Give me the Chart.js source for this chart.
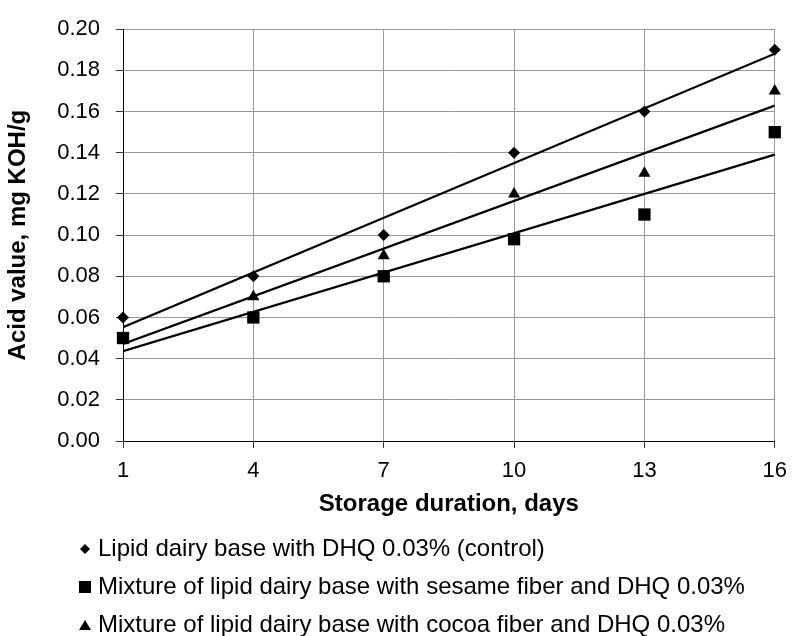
<!DOCTYPE html>
<html lang="en">
<head>
  <meta charset="UTF-8" />
  <title>Acid value during storage</title>
  <script src="https://cdn.jsdelivr.net/npm/chart.js"></script>
  <style>
    html, body { margin: 0; padding: 0; background: #fff; }
  </style>
</head>
<body>
  <canvas id="acidChart" width="797" height="636"></canvas>

  <script>
    // storage days and measured acid values, mg KOH/g
    const days = [1, 4, 7, 10, 13, 16];
    const controlValues = [0.06, 0.08, 0.10, 0.14, 0.16, 0.19];
    const sesameValues = [0.05, 0.06, 0.08, 0.098, 0.11, 0.15];
    const cocoaValues = [0.05, 0.07, 0.09, 0.12, 0.13, 0.17];

    const seriesNames = [
      "Lipid dairy base with DHQ 0.03% (control)",
      "Mixture of lipid dairy base with sesame fiber and DHQ 0.03%",
      "Mixture of lipid dairy base with cocoa fiber and DHQ 0.03%"
    ];

    const xTicks = [1, 4, 7, 10, 13, 16];
    const yTicks = [0, 0.02, 0.04, 0.06, 0.08, 0.10, 0.12, 0.14, 0.16, 0.18, 0.20];

    // least squares line through a series, evaluated at the first and last day
    function trendEnds(xs, ys) {
      const n = xs.length;
      const mx = xs.reduce((a, b) => a + b, 0) / n;
      const my = ys.reduce((a, b) => a + b, 0) / n;
      let sxy = 0, sxx = 0;
      xs.forEach((x, i) => {
        sxy += (x - mx) * (ys[i] - my);
        sxx += (x - mx) * (x - mx);
      });
      const k = sxy / sxx;
      return [xs[0], xs[n - 1]].map(x => ({ x: x, y: my + k * (x - mx) }));
    }

    function points(ys) {
      return days.map((d, i) => ({ x: d, y: ys[i] }));
    }

    function markerSet(label, ys, style, radius) {
      return {
        type: "scatter",
        label: label,
        data: points(ys),
        pointStyle: style,
        pointRadius: radius,
        pointHoverRadius: radius,
        backgroundColor: "#000",
        borderColor: "#000",
        borderWidth: 0,
        pointBorderWidth: 0,
        clip: false
      };
    }

    function trendSet(ys) {
      return {
        type: "line",
        label: "trend",
        data: trendEnds(days, ys),
        borderColor: "#000",
        borderWidth: 2.3,
        pointRadius: 0,
        fill: false
      };
    }

    // small marker pictures for the legend, each with its own size
    function glyph(style, size) {
      const c = document.createElement("canvas");
      c.width = 16;
      c.height = 16;
      const g = c.getContext("2d");
      const m = 8, h = size / 2;
      g.fillStyle = "#000";
      g.beginPath();
      if (style === "rectRot") {
        g.moveTo(m, m - h);
        g.lineTo(m + h, m);
        g.lineTo(m, m + h);
        g.lineTo(m - h, m);
      } else if (style === "rect") {
        g.rect(m - h, m - h, size, size);
      } else {
        g.moveTo(m, m - h * 0.85);
        g.lineTo(m + h, m + h * 0.85);
        g.lineTo(m - h, m + h * 0.85);
      }
      g.closePath();
      g.fill();
      return c;
    }

    const legendGlyphs = [glyph("rectRot", 10), glyph("rect", 12), glyph("triangle", 12)];

    // pull the legend rows in under the plot
    const legendIndent = {
      id: "legendIndent",
      afterLayout(chart) {
        chart.legend.left = 70;
      }
    };

    Chart.defaults.font.family = '"Liberation Sans", Arial, sans-serif';
    Chart.defaults.color = "#000";

    new Chart(document.getElementById("acidChart"), {
      type: "scatter",
      data: {
        datasets: [
          markerSet(seriesNames[0], controlValues, "rectRot", 6),
          markerSet(seriesNames[1], sesameValues, "rect", 8.7),
          markerSet(seriesNames[2], cocoaValues, "triangle", 7),
          trendSet(controlValues),
          trendSet(sesameValues),
          trendSet(cocoaValues)
        ]
      },
      options: {
        responsive: false,
        animation: false,
        layout: { padding: { top: 21, right: 15, bottom: -11, left: 0 } },
        plugins: {
          tooltip: { enabled: false },
          legend: {
            position: "bottom",
            align: "start",
            labels: {
              generateLabels: chart =>
                Chart.defaults.plugins.legend.labels.generateLabels(chart)
                  .filter(item => item.datasetIndex < 3)
                  .map(item => Object.assign(item, { pointStyle: legendGlyphs[item.datasetIndex] })),
              usePointStyle: true,
              boxWidth: 2,
              boxHeight: 12,
              padding: 14,
              color: "#000",
              font: { size: 24 }
            }
          }
        },
        scales: {
          x: {
            type: "linear",
            min: 1,
            max: 16,
            afterBuildTicks: scale => {
              scale.ticks = xTicks.map(v => ({ value: v }));
            },
            afterFit: scale => { scale.height = 82; },
            ticks: { font: { size: 22 }, padding: 10, color: "#000" },
            grid: { color: "#999", tickColor: "#333", tickLength: 7 },
            border: { color: "#000", width: 1 },
            title: {
              display: true,
              text: "Storage duration, days",
              font: { size: 24, weight: "bold" },
              padding: { top: 0, bottom: 4 },
              color: "#000"
            }
          },
          y: {
            min: 0,
            max: 0.2,
            afterBuildTicks: scale => {
              scale.ticks = yTicks.map(v => ({ value: v }));
            },
            afterFit: scale => { scale.width = 123; },
            ticks: {
              font: { size: 22 },
              padding: 16,
              color: "#000",
              callback: v => v.toFixed(2)
            },
            grid: { color: "#999", tickColor: "#333", tickLength: 7 },
            border: { color: "#000", width: 1 },
            title: {
              display: true,
              text: "Acid value, mg KOH/g",
              font: { size: 24, weight: "bold" },
              padding: { top: 4, bottom: 0 },
              color: "#000"
            }
          }
        }
      },
      plugins: [legendIndent]
    });
  </script>
</body>
</html>
